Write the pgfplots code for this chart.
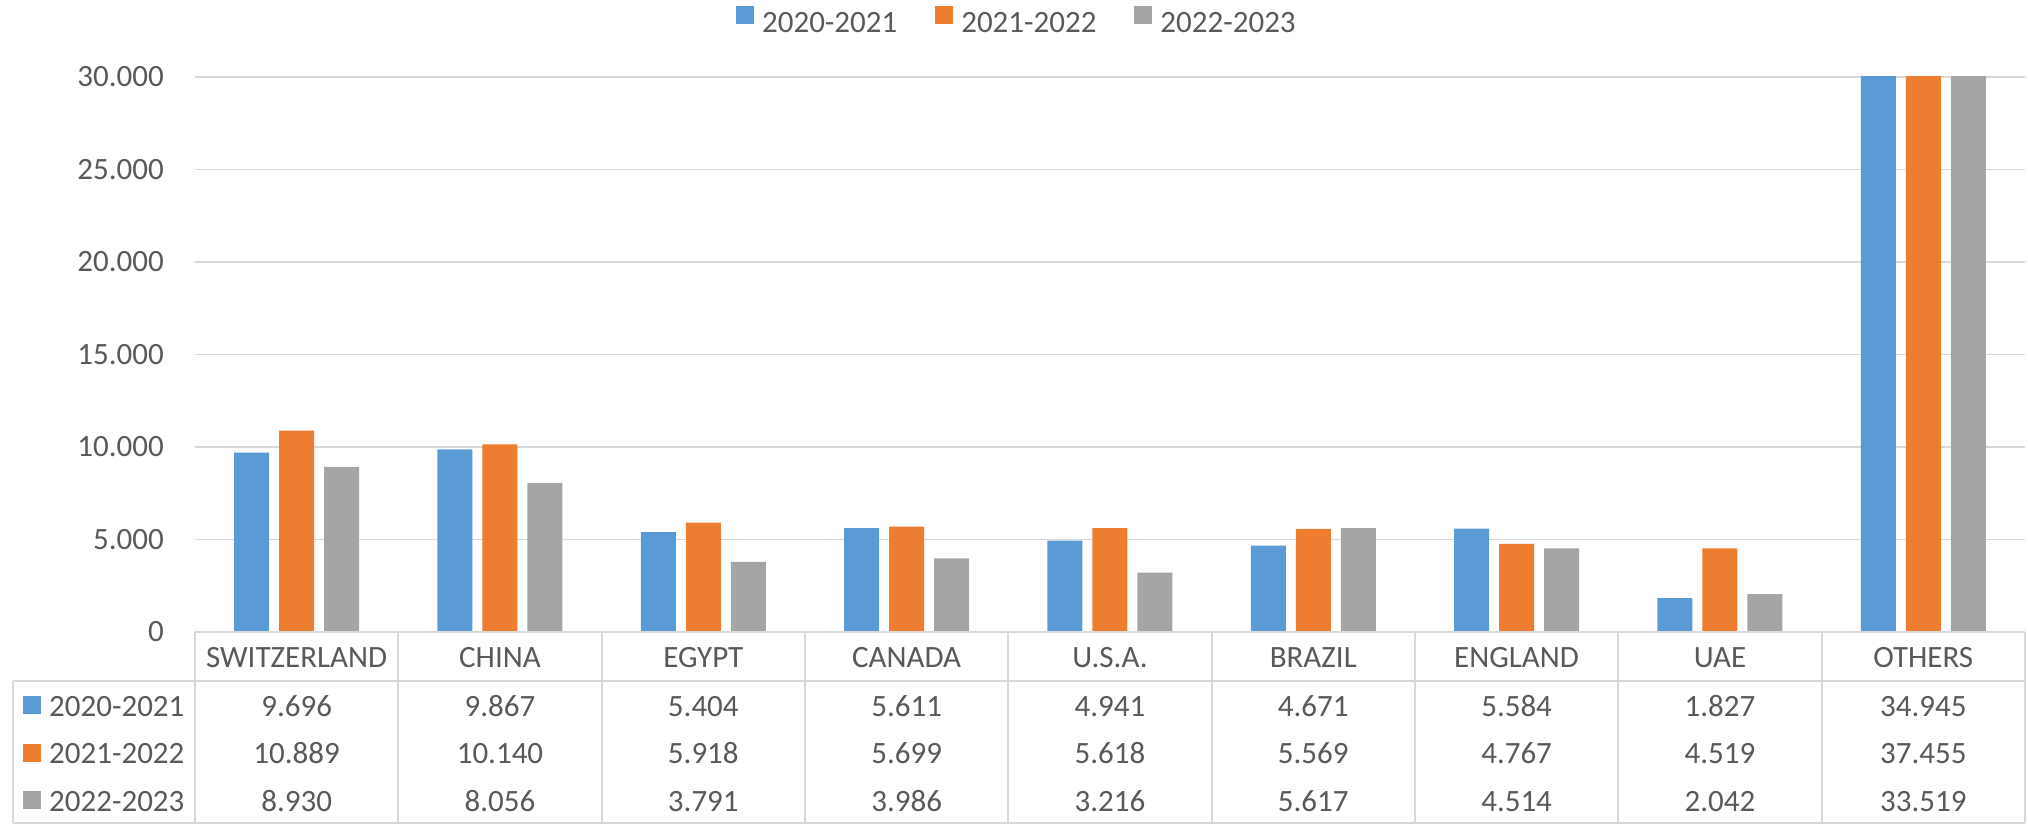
\documentclass[border=0pt]{standalone}
\usepackage{pgfplots}
\usepackage{pgfplotstable}
\pgfplotsset{compat=1.18}
\usepackage{fontspec}
\setmainfont{Carlito}
\definecolor{cblue}{HTML}{5B9BD5}
\definecolor{corange}{HTML}{ED7D31}
\definecolor{cgray}{HTML}{A5A5A5}
\definecolor{ctext}{HTML}{595959}
\definecolor{cgrid}{HTML}{D9D9D9}

\pgfplotstableread{
idx name a b c
0 SWITZERLAND 9696 10889 8930
1 CHINA 9867 10140 8056
2 EGYPT 5404 5918 3791
3 CANADA 5611 5699 3986
4 U.S.A. 4941 5618 3216
5 BRAZIL 4671 5569 5617
6 ENGLAND 5584 4767 4514
7 UAE 1827 4519 2042
8 OTHERS 34945 37455 33519
}\data

\begin{document}
\begin{tikzpicture}[font=\fontsize{31}{37}\selectfont]
\path[use as bounding box] (0pt,0pt) rectangle (2028pt,825pt);
\begin{axis}[
  at={(195pt,193pt)}, anchor=south west,
  scale only axis, width=1830pt, height=555pt,
  xmin=-0.5, xmax=8.5, ymin=0, ymax=30000,
  ybar=10pt, bar width=35pt,
  xtick={0,...,8},
  xticklabels from table={\data}{name},
  xticklabel style={anchor=base, inner sep=0pt, yshift=-35pt},
  major tick length=0pt,
  ytick={0,5000,...,30000},
  ymajorgrids, grid style={cgrid, line width=1.5pt},
  axis line style={draw=none},
  scaled y ticks=false,
  yticklabel style={anchor=east, inner sep=0pt, xshift=-31pt,
    /pgf/number format/.cd, fixed, precision=0, 1000 sep={.}},
  /pgf/number format/assume math mode=true,
  tick label style={text=ctext},
  clip mode=individual,
  legend image code/.code={\fill[#1,draw=none] (0pt,-1pt) rectangle (18pt,17pt);},
  legend style={at={(axis description cs:0.4486,1.1027)}, anchor=center,
    draw=none, fill=none, text=ctext, legend columns=3,
    nodes={inner sep=0pt},
    /tikz/every odd column/.append style={column sep=8pt},
    /tikz/every even column/.append style={column sep=38pt}},
  legend cell align=left,
]
\addplot[fill=cblue, draw=none] table[x=idx, y=a]{\data};
\addplot[fill=corange, draw=none] table[x=idx, y=b]{\data};
\addplot[fill=cgray, draw=none] table[x=idx, y=c]{\data};
\legend{2020-2021,2021-2022,2022-2023}
\pgfplotsinvokeforeach{0,...,8}{
  \node[anchor=base, inner sep=0pt, text=ctext, yshift=-84pt] at (axis cs:#1,0)
    {\pgfplotstablegetelem{#1}{a}\of\data\pgfmathprintnumber[fixed,precision=0,1000 sep={.}]{\pgfplotsretval}};
  \node[anchor=base, inner sep=0pt, text=ctext, yshift=-131pt] at (axis cs:#1,0)
    {\pgfplotstablegetelem{#1}{b}\of\data\pgfmathprintnumber[fixed,precision=0,1000 sep={.}]{\pgfplotsretval}};
  \node[anchor=base, inner sep=0pt, text=ctext, yshift=-179pt] at (axis cs:#1,0)
    {\pgfplotstablegetelem{#1}{c}\of\data\pgfmathprintnumber[fixed,precision=0,1000 sep={.}]{\pgfplotsretval}};
}
\end{axis}
% data table grid
\begin{scope}[cgrid, line width=1.8pt]
\draw (195pt,193pt) -- (2025pt,193pt);
\draw (13pt,144pt) -- (2025pt,144pt);
\draw (13pt,2pt) -- (2025pt,2pt);
\draw (13pt,2pt) -- (13pt,144pt);
\foreach \k in {0,...,9} {
  \draw ({195pt+203.333pt*\k},2pt) -- ({195pt+203.333pt*\k},193pt);
}
\end{scope}
% legend keys of the data table
\fill[cblue] (23pt,111pt) rectangle (41pt,129pt);
\fill[corange] (23pt,63pt) rectangle (41pt,81pt);
\fill[cgray] (23pt,16pt) rectangle (41pt,34pt);
\node[anchor=base west, inner sep=0pt, text=ctext] at (49pt,109pt) {2020-2021};
\node[anchor=base west, inner sep=0pt, text=ctext] at (49pt,62pt) {2021-2022};
\node[anchor=base west, inner sep=0pt, text=ctext] at (49pt,14pt) {2022-2023};
\end{tikzpicture}
\end{document}
